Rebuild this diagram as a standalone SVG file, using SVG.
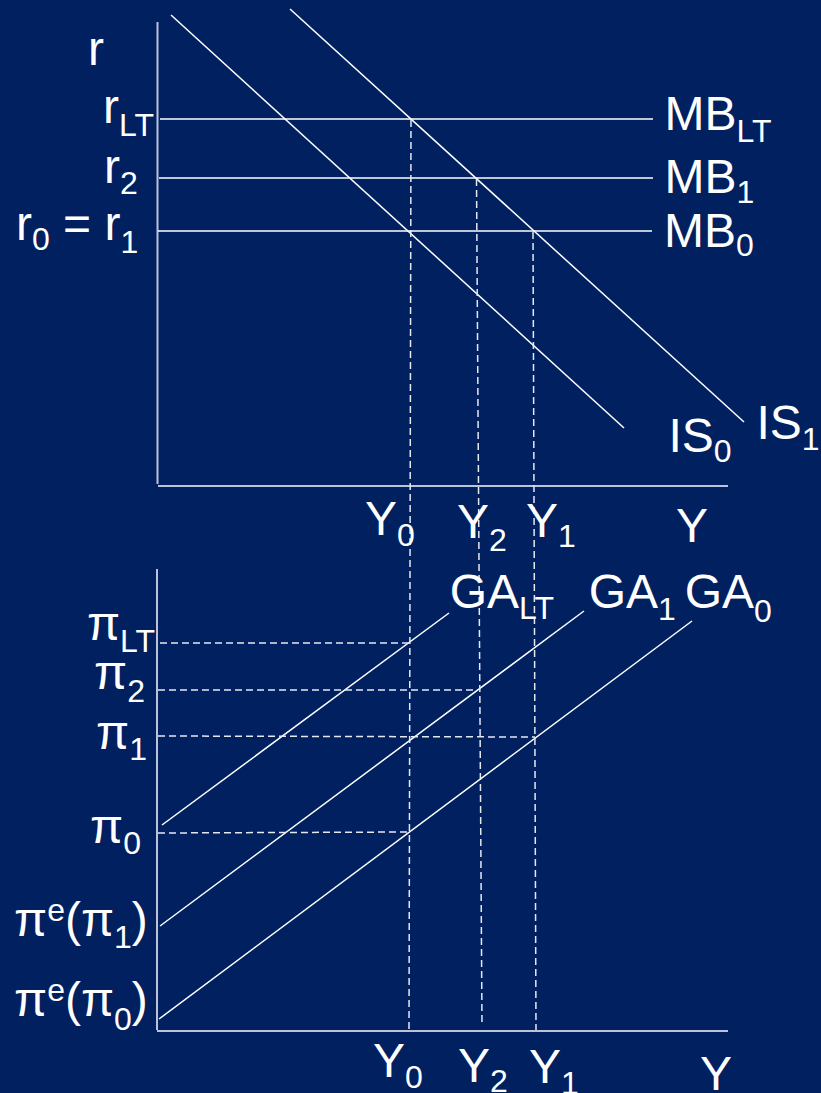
<svg xmlns="http://www.w3.org/2000/svg" width="821" height="1093" viewBox="0 0 821 1093">
<style>
.ax{stroke:#bcc3d9;stroke-width:2;fill:none}
.ln{stroke:#ffffff;stroke-width:1.5;fill:none}
.ds{stroke:#e6e8f0;stroke-width:1.5;fill:none;stroke-dasharray:7 4}
text{font-family:"Liberation Sans",Arial,sans-serif;font-size:48px;fill:#ffffff}
.s{font-size:32px}
</style>
<rect x="0" y="0" width="821" height="1093" fill="#012060"/>
<g id="axes">
<line class="ax" x1="157.5" y1="22" x2="157.5" y2="484"/>
<line class="ax" x1="158" y1="486" x2="728" y2="486"/>
<line class="ax" x1="157" y1="569" x2="157" y2="1030"/>
<line class="ax" x1="157" y1="1031" x2="728" y2="1031"/>
</g>
<g id="connectors">
<line class="ln" x1="160" y1="119" x2="653" y2="119"/>
<line class="ln" x1="159" y1="178" x2="653" y2="178"/>
<line class="ln" x1="158" y1="231" x2="652" y2="231"/>
<line class="ln" x1="171" y1="15" x2="624" y2="428"/>
<line class="ln" x1="290" y1="9" x2="744" y2="422"/>
<line class="ln" x1="162" y1="825" x2="449" y2="613"/>
<line class="ln" x1="160" y1="926" x2="584" y2="611"/>
<line class="ln" x1="159" y1="1019" x2="692" y2="621"/>
<line class="ds" x1="411" y1="120" x2="409" y2="1030"/>
<line class="ds" x1="476.5" y1="179" x2="482" y2="1025"/>
<line class="ds" x1="533" y1="232" x2="536" y2="1030"/>
<line class="ds" x1="160" y1="643" x2="409" y2="643"/>
<line class="ds" x1="158" y1="690" x2="478" y2="690"/>
<line class="ds" x1="158" y1="736" x2="535" y2="737"/>
<line class="ds" x1="158" y1="833" x2="409" y2="832"/>
</g>
<g id="top-labels">
<text x="88" y="65">r</text>
<text x="103" y="123">r<tspan class="s" dy="13">LT</tspan></text>
<text x="104" y="182.5">r<tspan class="s" dy="11.5">2</tspan></text>
<text x="16" y="240">r<tspan class="s" dy="10">0</tspan><tspan dy="-10"> = r</tspan><tspan class="s" dy="13">1</tspan></text>
<text x="664.5" y="130">MB<tspan class="s" dy="12">LT</tspan></text>
<text x="664.5" y="193">MB<tspan class="s" dy="10">1</tspan></text>
<text x="664" y="247">MB<tspan class="s" dy="9">0</tspan></text>
<text x="668.5" y="452">IS<tspan class="s" dy="10">0</tspan></text>
<text x="756.5" y="439">IS<tspan class="s" dy="11">1</tspan></text>
<text x="365" y="535">Y<tspan class="s" dy="11">0</tspan></text>
<text x="457" y="538">Y<tspan class="s" dy="13">2</tspan></text>
<text x="526" y="537">Y<tspan class="s" dy="10">1</tspan></text>
<text x="676" y="542">Y</text>
</g>
<g id="bottom-labels">
<text x="449.7" y="608">GA<tspan class="s" dy="11">LT</tspan></text>
<text x="588.7" y="608">GA<tspan class="s" dy="12">1</tspan></text>
<text x="684.7" y="608">GA<tspan class="s" dy="14">0</tspan></text>
<text x="155" y="640" text-anchor="end">π<tspan class="s" dy="12">LT</tspan></text>
<text x="145" y="689" text-anchor="end">π<tspan class="s" dy="13">2</tspan></text>
<text x="147" y="749" text-anchor="end">π<tspan class="s" dy="11">1</tspan></text>
<text x="141" y="843" text-anchor="end">π<tspan class="s" dy="11">0</tspan></text>
<text x="14" y="936">π<tspan class="s" dy="-15">e</tspan><tspan dy="15">(π</tspan><tspan class="s" dy="12">1</tspan><tspan dy="-12">)</tspan></text>
<text x="14" y="1016">π<tspan class="s" dy="-15">e</tspan><tspan dy="15">(π</tspan><tspan class="s" dy="14">0</tspan><tspan dy="-14">)</tspan></text>
<text x="373" y="1077">Y<tspan class="s" dy="11">0</tspan></text>
<text x="458" y="1082">Y<tspan class="s" dy="10">2</tspan></text>
<text x="529" y="1083">Y<tspan class="s" dy="11">1</tspan></text>
<text x="700" y="1090">Y</text>
</g>
</svg>
